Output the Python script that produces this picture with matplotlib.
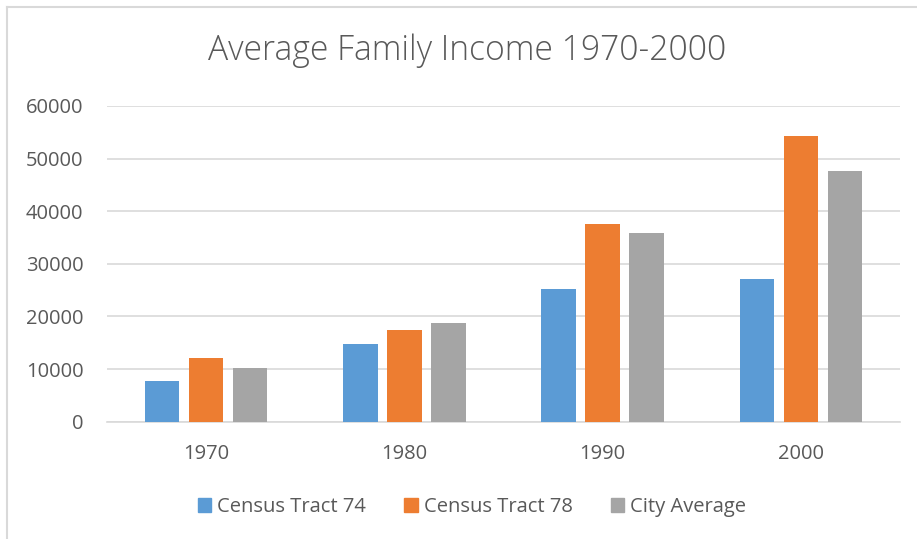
import matplotlib
matplotlib.use("Agg")
import matplotlib.pyplot as plt
import numpy as np
from matplotlib.lines import Line2D
from matplotlib.patches import Patch

years = ["1970", "1980", "1990", "2000"]
tract74 = [7700, 14800, 25200, 27100]
tract78 = [12200, 17400, 37600, 54300]
city_avg = [10300, 18800, 35900, 47600]
series_names = ["Census Tract 74", "Census Tract 78", "City Average"]

colors = ["#5B9BD5", "#ED7D31", "#A5A5A5"]
text_c = "#595959"
grid_c = "#D9D9D9"

plt.rcParams['font.family'] = ['Open Sans', 'DejaVu Sans']

fig = plt.figure(figsize=(9.17, 5.39), dpi=100)
ax = fig.add_axes([107/917, (539-421.7)/539, 793/917, (421.7-106)/539])

x = np.arange(len(years))
w = 0.174
step = 0.222
for i, vals in enumerate([tract74, tract78, city_avg]):
    ax.bar(x + (i-1)*step, vals, width=w, color=colors[i], label=series_names[i], zorder=3)

ax.set_xlim(-0.5, len(years)-0.5)
ax.set_ylim(0, 60000)
ax.set_yticks(np.arange(0, 60001, 10000))
ax.set_xticks(x)
ax.set_xticklabels(years)
ax.tick_params(axis='both', length=0, labelsize=14.5, labelcolor=text_c)
ax.tick_params(axis='y', pad=17)
ax.tick_params(axis='x', pad=16)
ax.grid(axis='y', color=grid_c, linewidth=1.2, zorder=0)
for s in ['top', 'right', 'left']:
    ax.spines[s].set_visible(False)
ax.spines['bottom'].set_color(grid_c)
ax.spines['bottom'].set_linewidth(1.2)

fig.text(467/917, (539-51)/539, "Average Family Income 1970-2000", ha='center', va='center',
         fontsize=24.2, color=text_c, fontweight='light')

handles = [Patch(color=c) for c in colors]
fig.legend(handles, series_names, loc='center', bbox_to_anchor=(472/917, (539-507)/539),
           ncol=3, frameon=False, fontsize=14.5, labelcolor=text_c,
           handlelength=0.65, handleheight=0.65, handletextpad=0.3, columnspacing=1.9)

# chart frame (only left and top edges visible in the crop)
fig.add_artist(Line2D([7/917, 7/917], [0, (539-7)/539], color=grid_c, linewidth=1.5))
fig.add_artist(Line2D([7/917, 1], [(539-7)/539, (539-7)/539], color=grid_c, linewidth=1.5))

fig.savefig("out.png", dpi=100)
